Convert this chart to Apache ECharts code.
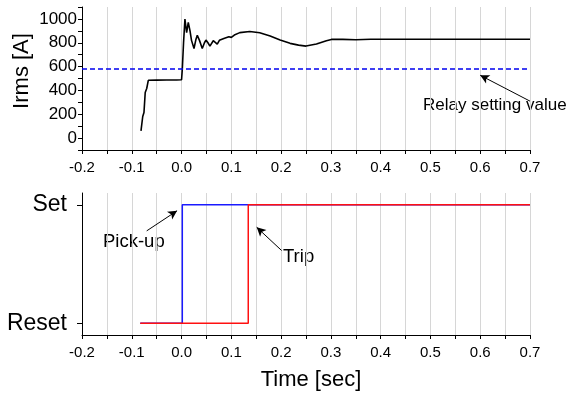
<!DOCTYPE html>
<html>
<head>
<meta charset="utf-8">
<script src="https://cdn.jsdelivr.net/npm/echarts@6/dist/echarts.min.js"></script>
<style>
  html, body { margin: 0; padding: 0; background: #fff; }
  #chart { width: 571px; height: 394px; }
</style>
</head>
<body>
<div id="chart"></div>
<script>
// top plot: rms current
const timeIrms = [-0.0815, -0.078, -0.0755, -0.073, -0.070, -0.0668, -0.05, -0.03, -0.01, 0.0,
  0.0015, 0.004, 0.0068, 0.0102, 0.0135, 0.017, 0.020, 0.025, 0.029, 0.0316,
  0.036, 0.0416, 0.046, 0.049, 0.053, 0.057, 0.0637, 0.0717, 0.076, 0.080,
  0.085, 0.089, 0.095, 0.100, 0.106, 0.117, 0.137, 0.157, 0.178, 0.198,
  0.218, 0.235, 0.25, 0.271, 0.291, 0.301, 0.324, 0.35, 0.38, 0.45, 0.55, 0.7];
const irms = [61, 181, 215, 382, 416, 485, 486, 487, 488, 490,
  577, 800, 998, 884, 970, 900, 820, 752, 830, 862,
  820, 752, 800, 823, 800, 772, 817, 789, 820, 808,
  835, 828, 850, 845, 865, 885, 895, 884, 856, 823,
  795, 780, 772, 789, 817, 828, 828, 825, 830, 830, 830, 830];
const relayT = [-0.2, 0.7];
const relayValue = [580, 580];

// bottom plot: relay states (0 = Reset, 1 = Set)
const pickupT = [-0.083, 0.0015, 0.7];
const pickupState = [0, 1, 1];
const tripT = [-0.083, 0.134, 0.7];
const tripState = [0, 1, 1];

const stateLabels = { 0: 'Reset', 1: 'Set' };
const irmsTicks = [0, 200, 400, 600, 800, 1000];

const zip = (a, b) => a.map((v, i) => [v, b[i]]);
const FONT = 'Liberation Sans, Arial, sans-serif';

const chart = echarts.init(document.getElementById('chart'));

const xAxisBase = (gridIndex) => ({
  gridIndex,
  type: 'value',
  min: -0.2,
  max: 0.7,
  interval: 0.1,
  axisLine: { onZero: false, lineStyle: { color: '#000', width: 1 } },
  axisTick: { length: 4, lineStyle: { color: '#000' } },
  minorTick: { show: true, splitNumber: 2, length: 4, lineStyle: { color: '#000' } },
  splitLine: { show: true, lineStyle: { color: '#d6d6d6', width: 1 } },
  minorSplitLine: { show: true, lineStyle: { color: '#d6d6d6', width: 1 } },
  axisLabel: {
    fontSize: 15, fontFamily: FONT, color: '#000', margin: 10,
    formatter: (v) => Math.abs(v) < 1e-9 ? '0.0' : v.toFixed(1)
  }
});

const arrowLine = (from, to) => ({
  silent: true,
  symbol: ['none', 'arrow'],
  symbolSize: [7, 9],
  label: { show: false },
  lineStyle: { color: '#000', width: 1, type: 'solid' },
  emphasis: { disabled: true },
  data: [[{ coord: from }, { coord: to }]]
});

chart.setOption({
  animation: false,
  grid: [
    { left: 82, top: 7, width: 448, height: 143 },
    { left: 82, top: 193, width: 448, height: 142 }
  ],
  xAxis: [xAxisBase(0), xAxisBase(1)],
  yAxis: [
    {
      gridIndex: 0,
      type: 'value',
      min: -100,
      max: 1100,
      interval: 100,
      axisLine: { show: true, onZero: false, lineStyle: { color: '#000' } },
      axisTick: { show: true, length: 4, lineStyle: { color: '#000' } },
      splitLine: { show: false },
      axisLabel: {
        fontSize: 17, fontFamily: FONT, color: '#000', margin: 5,
        formatter: (v) => irmsTicks.includes(Math.round(v)) ? String(Math.round(v)) : ''
      }
    },
    {
      gridIndex: 1,
      type: 'value',
      min: -0.1,
      max: 1.1,
      axisLine: { show: true, onZero: false, lineStyle: { color: '#000' } },
      axisTick: { show: true, length: 5, customValues: [0, 1], lineStyle: { color: '#000' } },
      splitLine: { show: false },
      axisLabel: {
        fontSize: 23, fontFamily: FONT, color: '#000', margin: 15,
        customValues: [0, 1],
        formatter: (v) => stateLabels[Math.round(v)]
      }
    }
  ],
  series: [
    {
      type: 'line', xAxisIndex: 0, yAxisIndex: 0,
      data: zip(timeIrms, irms),
      showSymbol: false,
      lineStyle: { color: '#000', width: 1.6 },
      z: 3
    },
    {
      type: 'line', xAxisIndex: 0, yAxisIndex: 0,
      data: zip(relayT, relayValue),
      showSymbol: false,
      lineStyle: { color: '#0000ee', width: 1.5, type: [5, 3] },
      markLine: arrowLine([0.7, 310], [0.6, 527])
    },
    {
      type: 'line', xAxisIndex: 1, yAxisIndex: 1,
      data: zip(pickupT, pickupState),
      step: 'end',
      showSymbol: false,
      lineStyle: { color: '#1a1aff', width: 1.5 },
      markLine: arrowLine([-0.07, 0.78], [-0.009, 0.95])
    },
    {
      type: 'line', xAxisIndex: 1, yAxisIndex: 1,
      data: zip(tripT, tripState),
      step: 'end',
      showSymbol: false,
      lineStyle: { color: '#ff1010', width: 1.5 },
      markLine: arrowLine([0.201, 0.614], [0.151, 0.81])
    }
  ],
  graphic: [
    { type: 'text', x: 423, y: 105, style: { text: 'Relay setting value', font: '17px ' + FONT, fill: '#000', verticalAlign: 'middle' } },
    { type: 'text', x: 103, y: 242, style: { text: 'Pick-up', font: '18.5px ' + FONT, fill: '#000', verticalAlign: 'middle' } },
    { type: 'text', x: 283, y: 257, style: { text: 'Trip', font: '18.5px ' + FONT, fill: '#000', verticalAlign: 'middle' } },
    { type: 'text', x: 22, y: 71, rotation: Math.PI / 2, style: { text: 'Irms [A]', font: '22px ' + FONT, fill: '#000', align: 'center', verticalAlign: 'middle' } },
    { type: 'text', x: 311, y: 380, style: { text: 'Time [sec]', font: '22px ' + FONT, fill: '#000', align: 'center', verticalAlign: 'middle' } }
  ]
});
</script>
</body>
</html>
